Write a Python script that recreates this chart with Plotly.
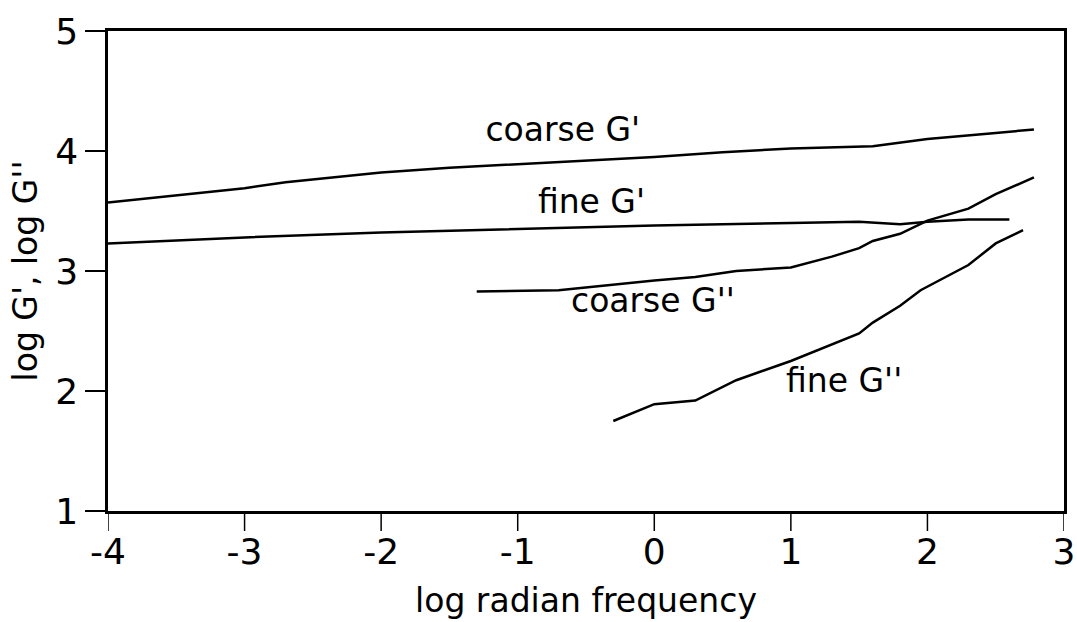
import plotly.graph_objects as go

# coarse G'
cg1_x = [-4.0, -3.5, -3.0, -2.7, -2.0, -1.5, -1.0, -0.5, 0.0, 0.5, 1.0, 1.6, 2.0, 2.5, 2.78]
cg1_y = [3.57, 3.63, 3.69, 3.74, 3.82, 3.86, 3.89, 3.92, 3.95, 3.99, 4.02, 4.04, 4.10, 4.15, 4.18]
# fine G'
fg1_x = [-4.0, -3.0, -2.0, -1.0, 0.0, 1.0, 1.5, 1.8, 2.0, 2.3, 2.6]
fg1_y = [3.23, 3.28, 3.32, 3.35, 3.38, 3.40, 3.41, 3.39, 3.41, 3.43, 3.43]
# coarse G''
cg2_x = [-1.3, -0.7, 0.0, 0.3, 0.6, 1.0, 1.3, 1.5, 1.6, 1.8, 2.0, 2.3, 2.5, 2.78]
cg2_y = [2.83, 2.84, 2.92, 2.95, 3.00, 3.03, 3.12, 3.19, 3.25, 3.31, 3.42, 3.52, 3.64, 3.78]
# fine G''
fg2_x = [-0.3, 0.0, 0.3, 0.6, 1.0, 1.5, 1.6, 1.8, 1.95, 2.3, 2.5, 2.7]
fg2_y = [1.75, 1.89, 1.92, 2.09, 2.25, 2.48, 2.57, 2.71, 2.84, 3.05, 3.23, 3.34]

label_text = ["coarse G'", "fine G'", "coarse G''", "fine G''"]
label_x = [-0.67, -0.46, -0.01, 1.39]
label_y = [4.15, 3.55, 2.73, 2.06]

x_ticks = [-4, -3, -2, -1, 0, 1, 2, 3]
x_ticktext = ["-4", "-3", "-2", "-1", "0", "1", "2", "3"]
y_ticks = [1, 2, 3, 4, 5]
y_ticktext = ["1", "2", "3", "4", "5"]

FONT = "DejaVu Sans, Liberation Sans, Arial"

fig = go.Figure()
for xs, ys in [(cg1_x, cg1_y), (fg1_x, fg1_y), (cg2_x, cg2_y), (fg2_x, fg2_y)]:
    fig.add_trace(go.Scatter(x=xs, y=ys, mode="lines",
                             line=dict(color="black", width=2.5), showlegend=False))

fig.add_trace(go.Scatter(x=label_x, y=label_y, text=label_text, mode="text",
                         textfont=dict(family=FONT, size=33, color="black"),
                         showlegend=False))

# x tick marks drawn below the axis at the tick values (pixel length)
for t in x_ticks:
    fig.add_shape(type="line", xref="x", yref="paper", x0=t, x1=t,
                  ysizemode="pixel", yanchor=0, y0=0, y1=-20,
                  line=dict(color="black", width=1.5))

axis_common = dict(showgrid=False, zeroline=False, showline=True, mirror=True,
                   linecolor="black", linewidth=2.5, automargin=False,
                   tickfont=dict(family=FONT, size=36, color="black"))

fig.update_layout(
    width=1077, height=622,
    margin=dict(l=108, r=13, t=31, b=111),
    plot_bgcolor="white", paper_bgcolor="white",
    xaxis=dict(range=[-4, 3], tickvals=x_ticks, ticktext=x_ticktext, ticks="",
               ticklen=0, ticklabelstandoff=7,
               title=dict(text="log radian frequency", standoff=18,
                          font=dict(family=FONT, size=33, color="black")),
               **axis_common),
    yaxis=dict(range=[1, 5], tickvals=y_ticks, ticktext=y_ticktext,
               ticks="outside", ticklen=20, tickwidth=1.5, tickcolor="black",
               title=dict(text="log G', log G''", standoff=8,
                          font=dict(family=FONT, size=33, color="black")),
               **axis_common),
)

fig.write_html("out.html")
